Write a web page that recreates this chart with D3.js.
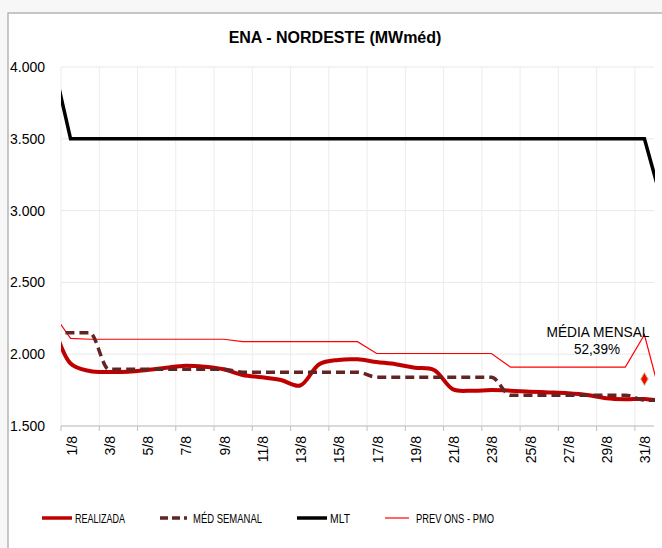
<!DOCTYPE html>
<html><head><meta charset="utf-8">
<script src="https://cdn.jsdelivr.net/npm/d3@7"></script>
<style>
html,body{margin:0;padding:0;background:#f7f7f7;}
svg{display:block;}
text{font-family:"Liberation Sans",Arial,sans-serif;fill:#000;}
</style></head>
<body>
<svg id="chart" width="662" height="548"></svg>
<script>
// ---- DATA (31/7 and 1/9 lie just outside the visible plot, as in the original) ----
const days = ["31/7","1/8","2/8","3/8","4/8","5/8","6/8","7/8","8/8","9/8","10/8","11/8","12/8","13/8","14/8","15/8","16/8","17/8","18/8","19/8","20/8","21/8","22/8","23/8","24/8","25/8","26/8","27/8","28/8","29/8","30/8","31/8","1/9"];
const realizada = [2250,1935,1883,1876,1878,1890,1906,1920,1913,1895,1855,1839,1820,1782,1930,1960,1964,1946,1930,1906,1890,1755,1746,1750,1746,1739,1734,1728,1716,1693,1686,1688,1670];
const medSemanal = [2150,2150,2150,1895,1895,1895,1895,1895,1895,1895,1875,1875,1875,1875,1875,1875,1875,1840,1840,1840,1840,1840,1840,1840,1715,1715,1715,1715,1715,1715,1715,1680,1680];
const mlt = [4085,3500,3500,3500,3500,3500,3500,3500,3500,3500,3500,3500,3500,3500,3500,3500,3500,3500,3500,3500,3500,3500,3500,3500,3500,3500,3500,3500,3500,3500,3500,3500,3020];
const prevOns = [2300,2110,2104,2104,2104,2104,2104,2104,2104,2104,2087,2087,2087,2087,2087,2087,2087,2005,2005,2005,2005,2005,2005,2005,1910,1910,1910,1910,1910,1910,1910,2135,1630];
const mediaMensalDay = "31/8";
const mediaMensalValue = 1827;
const mediaMensalLabel = ["MÉDIA MENSAL","52,39%"];
const tickLabels = ["1/8","3/8","5/8","7/8","9/8","11/8","13/8","15/8","17/8","19/8","21/8","23/8","25/8","27/8","29/8","31/8"];
const yTicks = [1500,2000,2500,3000,3500,4000];
const title = "ENA - NORDESTE (MWméd)";
const seriesNames = ["REALIZADA","MÉD SEMANAL","MLT","PREV ONS - PMO"];

// ---- LAYOUT ----
const svg = d3.select("#chart");
const plotL = 61, plotR = 654, plotT = 67, plotB = 426;
const nVis = 31;
const step = (plotR - plotL) / nVis;

svg.append("rect").attr("x",8).attr("y",13).attr("width",720).attr("height",600)
  .attr("fill","#fff").attr("stroke","#ababab").attr("stroke-width",1.3);

const x = d3.scalePoint().domain(days).range([plotL - step/2, plotR + step/2]);
const y = d3.scaleLinear().domain([1500,4000]).range([plotB, plotT]);

// gridlines
const g = svg.append("g");
g.selectAll(".hg").data(yTicks).join("line")
  .attr("x1",plotL).attr("x2",plotR).attr("y1",d=>y(d)).attr("y2",d=>y(d))
  .attr("stroke","#e9e9e9").attr("stroke-width",1);
g.selectAll(".vg").data(tickLabels).join("line")
  .attr("x1",d=>x(d)-step/2).attr("x2",d=>x(d)-step/2).attr("y1",plotT).attr("y2",plotB)
  .attr("stroke","#ececec").attr("stroke-width",1);

// y labels
svg.append("g").selectAll("text").data(yTicks).join("text")
  .attr("x",45).attr("y",d=>y(d)).attr("dy","0.36em").attr("text-anchor","end")
  .attr("font-size",14)
  .text(d => d3.format(",.0f")(d).replace(/,/g,"."));

// x axis
svg.append("line").attr("x1",plotL).attr("x2",plotR).attr("y1",plotB).attr("y2",plotB)
  .attr("stroke","#bfbfbf").attr("stroke-width",1);
svg.append("g").selectAll("line").data(tickLabels).join("line")
  .attr("x1",d=>x(d)-step/2).attr("x2",d=>x(d)-step/2).attr("y1",plotB).attr("y2",plotB+5)
  .attr("stroke","#bfbfbf").attr("stroke-width",1);
svg.append("g").selectAll("text").data(tickLabels).join("text")
  .attr("transform",d=>`translate(${x(d)+1},${plotB+10}) rotate(-90)`)
  .attr("dy","0.36em").attr("text-anchor","end").attr("font-size",14)
  .text(d=>d);

// title
svg.append("text").attr("x",335).attr("y",43).attr("text-anchor","middle")
  .attr("font-size",16).attr("font-weight","bold").text(title);

// clip
svg.append("clipPath").attr("id","clip").append("rect")
  .attr("x",plotL).attr("y",plotT-10).attr("width",plotR-plotL+1).attr("height",plotB-plotT+20);

const lines = svg.append("g").attr("clip-path","url(#clip)");
const mk = (vals, curve) => d3.line().x((d,i)=>x(days[i])).y(d=>y(d)).curve(curve)(vals);

lines.append("path").attr("d",mk(prevOns,d3.curveLinear))
  .attr("fill","none").attr("stroke","#ff0000").attr("stroke-width",1.2);
lines.append("path").attr("d",mk(realizada,d3.curveCatmullRom.alpha(0.5)))
  .attr("fill","none").attr("stroke","#c00000").attr("stroke-width",4).attr("stroke-linejoin","round");
lines.append("path").attr("d",mk(medSemanal,d3.curveMonotoneX))
  .attr("fill","none").attr("stroke","#632523").attr("stroke-width",3.5).attr("stroke-dasharray","9,5");
lines.append("path").attr("d",mk(mlt,d3.curveLinear))
  .attr("fill","none").attr("stroke","#000").attr("stroke-width",3.5);

// média mensal marker
svg.append("path").attr("d",d3.symbol().type(d3.symbolDiamond).size(48)())
  .attr("transform",`translate(${x(mediaMensalDay)},${y(mediaMensalValue)})`)
  .attr("fill","#ff0000").attr("stroke","#b5cf8a").attr("stroke-width",1);

// annotation
svg.append("text").attr("x",598).attr("y",336.5).attr("text-anchor","middle")
  .attr("font-size",14).attr("textLength",103).attr("lengthAdjust","spacingAndGlyphs")
  .text(mediaMensalLabel[0]);
svg.append("text").attr("x",597).attr("y",354).attr("text-anchor","middle")
  .attr("font-size",14).attr("textLength",46).attr("lengthAdjust","spacingAndGlyphs")
  .text(mediaMensalLabel[1]);

// legend
const leg = [
  {name:seriesNames[0], x1:42, x2:72, tx:75, tw:50, stroke:"#c00000", w:3.5, dash:null},
  {name:seriesNames[1], x1:160, x2:187, tx:193, tw:69, stroke:"#632523", w:3.5, dash:"8,4"},
  {name:seriesNames[2], x1:297, x2:327, tx:330, tw:20, stroke:"#000", w:3.5, dash:null},
  {name:seriesNames[3], x1:385, x2:409, tx:416, tw:78, stroke:"#ff0000", w:1.2, dash:null}
];
const lg = svg.append("g");
leg.forEach(l=>{
  const ln = lg.append("line").attr("x1",l.x1).attr("x2",l.x2).attr("y1",518).attr("y2",518)
    .attr("stroke",l.stroke).attr("stroke-width",l.w);
  if(l.dash) ln.attr("stroke-dasharray",l.dash);
  lg.append("text").attr("x",l.tx).attr("y",518).attr("dy","0.36em").attr("font-size",13)
    .attr("textLength",l.tw).attr("lengthAdjust","spacingAndGlyphs").text(l.name);
});
</script>
</body></html>
